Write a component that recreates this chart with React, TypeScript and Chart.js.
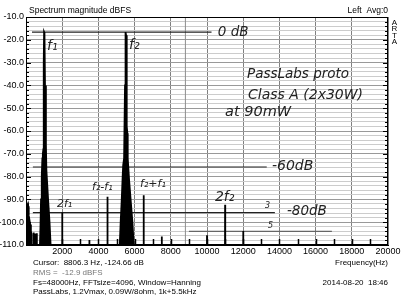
import React, { useEffect, useRef } from 'react';
import { Chart, registerables } from 'chart.js';

Chart.register(...registerables);

// ---------- data (Hz, dBFS) ----------
const dcFreqs = [0, 30, 60, 90, 120, 150, 190, 230, 270, 300];
const dcLevels = [-91, -91.5, -92, -94, -93, -97, -99, -101, -104, -105];

const f1Freqs = [770, 800, 830, 870, 905, 930, 960, 980, 1000, 1020, 1050, 1100, 1125, 1220, 1300, 1360];
const f1Levels = [-110, -102, -90, -80, -72, -70, -68, -30, -16.6, -17, -40, -66, -77, -90, -100, -110];

const f2Freqs = [5180, 5230, 5290, 5340, 5370, 5420, 5470, 5500, 5530, 5560, 5570, 5600, 5620, 5700, 5800, 5880, 5950];
const f2Levels = [-110, -100, -90, -80, -75, -72, -40, -16.6, -18, -40, -58, -61, -72, -82, -92, -100, -110];

const spikeFreqs = [420, 510, 600, 2000, 3500, 4500, 6500, 7500, 10000, 11000, 12000];
const spikeLevels = [-104.5, -105, -104.8, -95.8, -107.8, -88.8, -88.2, -106.3, -105.7, -92.4, -103.9];

// hand-drawn reference lines: level, start Hz, end Hz
const refLevels = [-16.6, -75.8, -95.8, -104];
const refStarts = [330, 380, 380, 9000];
const refEnds = [10250, 13300, 13750, 16900];

const cursorFreq = 8806.3;

const xMin = 0;
const xMax = 20000;
const yMin = -110;
const yMax = -10;
const floorLevel = -125;

// ---------- helpers ----------
type P = { x: number; y: number };
function buildSpectrum(): P[] {
  const pts: P[] = [];
  const addGroup = (fs: number[], ls: number[]) => {
    pts.push({ x: fs[0] - 8, y: floorLevel });
    fs.forEach((f, i) => pts.push({ x: f, y: ls[i] }));
    pts.push({ x: fs[fs.length - 1] + 8, y: floorLevel });
  };
  addGroup(dcFreqs, dcLevels);
  addGroup(f1Freqs, f1Levels);
  addGroup(f2Freqs, f2Levels);
  spikeFreqs.forEach((f, i) => addGroup([f], [spikeLevels[i]]));
  pts.sort((a, b) => a.x - b.x);
  return pts;
}

const HAND = '"DejaVu Sans"';
const UI = '"Liberation Sans"';

const handNotes = [
  { text: 'f₁', f: 1160, db: -22.7, size: 14 },
  { text: 'f₂', f: 5690, db: -22.3, size: 14 },
  { text: '0 dB', f: 10600, db: -16.6, size: 13.5 },
  { text: 'PassLabs proto', f: 12210, db: -35, size: 13.5 },
  { text: 'Class A (2x30W)', f: 12265, db: -44.2, size: 14 },
  { text: 'at 90mW', f: 10995, db: -51.7, size: 14.5 },
  { text: '-60dB', f: 13590, db: -75.4, size: 14 },
  { text: '2f₁', f: 1710, db: -92, size: 11 },
  { text: 'f₂-f₁', f: 3650, db: -84.6, size: 11 },
  { text: 'f₂+f₁', f: 6300, db: -83.2, size: 11 },
  { text: '2f₂', f: 10440, db: -89, size: 14 },
  { text: '3', f: 13200, db: -92.9, size: 8 },
  { text: '-80dB', f: 14420, db: -95.5, size: 13.5 },
  { text: '5', f: 13370, db: -101.7, size: 8 },
];

const overlayPlugin = {
  id: 'overlay',
  beforeDraw(chart: any) {
    const ctx = chart.ctx;
    ctx.save();
    ctx.fillStyle = '#fff';
    ctx.fillRect(0, 0, chart.width, chart.height);
    ctx.restore();
  },
  afterDraw(chart: any) {
    const ctx = chart.ctx as CanvasRenderingContext2D;
    const xs = chart.scales.x;
    const ys = chart.scales.y;
    const a = chart.chartArea;
    ctx.save();
    // inner tick marks
    ctx.strokeStyle = '#000';
    ctx.lineWidth = 1.5;
    for (let f = 1000; f < xMax; f += 1000) {
      const px = Math.round(xs.getPixelForValue(f)) + 0.5;
      ctx.beginPath();
      ctx.moveTo(px, a.bottom);
      ctx.lineTo(px, a.bottom - 6);
      ctx.stroke();
    }
    ctx.lineWidth = 1;
    for (let v = yMin + 2; v < yMax; v += 2) {
      const py = Math.round(ys.getPixelForValue(v)) + 0.5;
      const len = v % 10 === 0 ? 5 : 3;
      ctx.beginPath();
      ctx.moveTo(a.left, py);
      ctx.lineTo(a.left + len, py);
      ctx.moveTo(a.right, py);
      ctx.lineTo(a.right - len, py);
      ctx.stroke();
    }
    // frame
    ctx.strokeRect(a.left + 0.5, a.top + 0.5, a.right - a.left - 1, a.bottom - a.top - 1);

    // ARTA texts
    ctx.fillStyle = '#000';
    ctx.textBaseline = 'middle';
    ctx.font = `8.5px ${UI}`;
    ctx.textAlign = 'left';
    ctx.fillText('Spectrum magnitude dBFS', 29, 11);
    ctx.textAlign = 'right';
    ctx.fillText('Left  Avg:0', 388, 11);
    ctx.textAlign = 'center';
    ctx.font = `8px ${UI}`;
    ['A', 'R', 'T', 'A'].forEach((c, i) => ctx.fillText(c, 394.5, 23 + i * 6.2));

    ctx.font = `8px ${UI}`;
    ctx.textAlign = 'left';
    ctx.fillText('Cursor:  8806.3 Hz, -124.66 dB', 33, 263);
    ctx.fillStyle = '#777';
    ctx.fillText('RMS =  -12.9 dBFS', 33, 273);
    ctx.fillStyle = '#000';
    ctx.fillText('Fs=48000Hz, FFTsize=4096, Window=Hanning', 33, 282.5);
    ctx.fillText('PassLabs, 1.2Vmax, 0.09W/8ohm, 1k+5.5kHz', 33, 292);
    ctx.textAlign = 'right';
    ctx.fillText('Frequency(Hz)', 388, 263);
    ctx.fillText('2014-08-20  18:46', 388, 282.5);

    // hand-written notes
    ctx.fillStyle = '#222';
    ctx.textAlign = 'left';
    handNotes.forEach((n) => {
      ctx.font = `oblique 300 ${n.size}px ${HAND}`;
      ctx.fillText(n.text, xs.getPixelForValue(n.f), ys.getPixelForValue(n.db));
    });
    ctx.restore();
  },
};

export default function App() {
  const ref = useRef<HTMLCanvasElement | null>(null);
  useEffect(() => {
    document.body.style.margin = '0';
    const canvas = ref.current;
    if (!canvas) return;
    const refSets = refLevels.map((lv, i) => ({
      label: 'ref' + i,
      data: [
        { x: refStarts[i], y: lv },
        { x: refEnds[i], y: lv },
      ],
      borderColor: i === 3 ? '#666' : '#222',
      borderWidth: 1.2,
      pointRadius: 0,
      fill: false,
    }));
    const chart = new Chart(canvas, {
      type: 'line',
      data: {
        datasets: [
          {
            label: 'spectrum',
            data: buildSpectrum(),
            borderColor: '#000',
            backgroundColor: '#000',
            borderWidth: 1.8,
            pointRadius: 0,
            fill: 'start',
            tension: 0,
          },
          ...refSets,
          {
            label: 'cursor',
            data: [
              { x: cursorFreq, y: yMin },
              { x: cursorFreq, y: yMax },
            ],
            borderColor: '#8c8c8c',
            borderWidth: 1,
            pointRadius: 0,
            fill: false,
          },
        ],
      },
      options: {
        animation: false,
        responsive: false,
        events: [],
        layout: { padding: { left: 0, top: 17, right: 14, bottom: 0 } },
        plugins: { legend: { display: false }, tooltip: { enabled: false }, title: { display: false } },
        scales: {
          x: {
            type: 'linear',
            min: xMin,
            max: xMax,
            afterFit: (s: any) => {
              s.height = 55;
            },
            ticks: {
              stepSize: 2000,
              autoSkip: false,
              maxRotation: 0,
              padding: 1,
              color: '#000',
              font: { family: UI, size: 9 },
              callback: (v: any) => (v === 0 ? '' : String(v)),
            },
            grid: { color: '#808080', drawTicks: false, lineWidth: 1 },
            border: { color: '#000' },
          },
          y: {
            type: 'linear',
            min: yMin,
            max: yMax,
            afterFit: (s: any) => {
              s.width = 26;
            },
            ticks: {
              stepSize: 2,
              autoSkip: false,
              padding: 2,
              color: '#000',
              font: { family: UI, size: 9 },
              callback: (v: any) => (Math.round(v) % 10 === 0 ? Number(v).toFixed(1) : ''),
            },
            grid: {
              drawTicks: false,
              lineWidth: 1,
              color: (c: any) => (Math.round(c.tick.value) % 10 === 0 ? '#999999' : '#cccccc'),
            },
            border: { color: '#000' },
          },
        },
      },
      plugins: [overlayPlugin],
    } as any);
    return () => chart.destroy();
  }, []);
  return (
    <div style={{ width: 402, height: 300 }}>
      <canvas ref={ref} width={402} height={300} style={{ display: 'block' }} />
    </div>
  );
}
